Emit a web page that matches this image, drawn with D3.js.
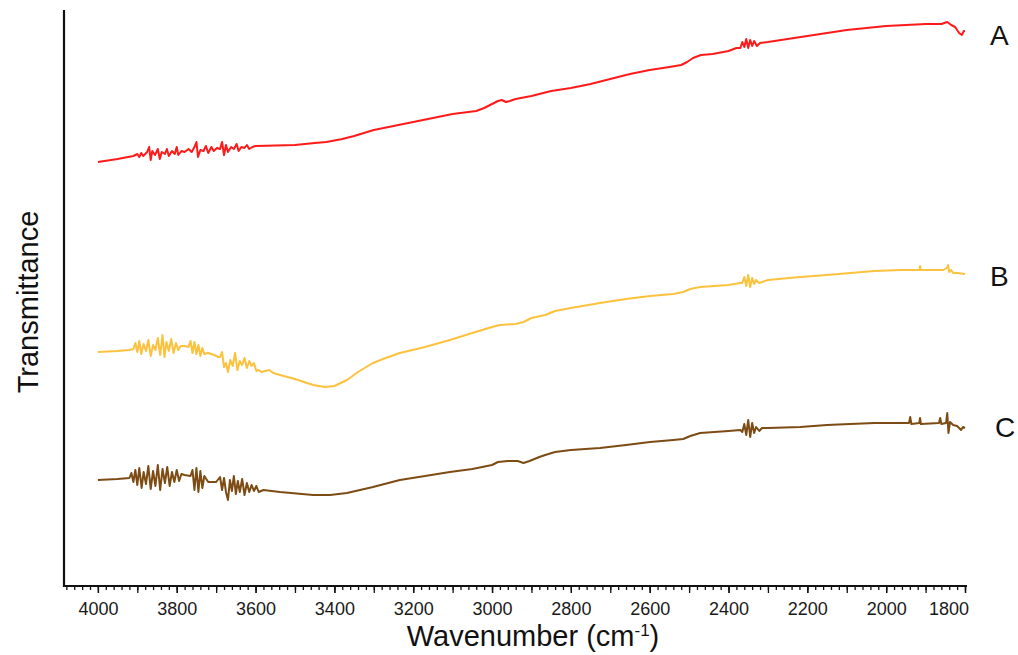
<!DOCTYPE html>
<html>
<head>
<meta charset="utf-8">
<script src="https://cdn.jsdelivr.net/npm/d3@7"></script>
<style>
  html, body { margin: 0; padding: 0; background: #fff; }
  svg { display: block; font-family: "Liberation Sans", Arial, sans-serif; }
</style>
</head>
<body>
<svg id="chart" width="1018" height="655"></svg>
<script>
// wavenumber (cm-1), transmittance (arbitrary units, curves offset)
const spectrumA = [
  [4000,42.4],[3950,42.7],[3910,43.0],
  [3900,43.2],[3895,42.9],[3890,43.3],[3885,43.0],[3875,43.4],[3870,43.9],[3866,42.6],[3862,43.5],
  [3855,43.1],[3848,43.7],[3843,42.7],[3838,43.4],[3830,43.2],[3825,43.7],[3820,43.0],[3812,43.5],
  [3805,43.2],[3800,43.9],[3796,43.1],[3788,43.5],[3780,43.4],[3770,43.7],[3762,43.4],[3755,43.9],
  [3750,44.4],[3746,42.9],[3740,43.6],[3732,43.5],[3726,44.0],[3720,43.3],[3712,43.9],[3706,43.5],
  [3698,43.8],[3690,43.7],[3685,44.4],[3680,43.1],[3675,44.1],[3670,43.4],[3662,43.9],[3655,43.7],
  [3648,44.2],[3643,43.5],[3636,43.9],[3628,43.8],[3622,44.1],[3616,43.7],[3608,43.9],[3600,44.0],
  [3500,44.1],[3450,44.3],[3420,44.4],[3380,44.7],[3350,45.0],[3300,45.6],[3250,46.0],[3200,46.4],
  [3150,46.8],[3100,47.2],[3060,47.4],[3040,47.5],[3020,47.8],[3000,48.2],[2985,48.5],[2975,48.6],
  [2965,48.4],[2955,48.5],[2940,48.7],[2900,49.0],[2850,49.5],[2800,49.8],[2750,50.2],[2700,50.7],
  [2650,51.2],[2600,51.6],[2550,51.9],[2520,52.1],[2505,52.4],[2490,52.8],[2470,53.1],[2440,53.2],
  [2400,53.5],[2380,53.8],
  [2370,53.8],[2365,54.4],[2360,53.9],[2355,54.7],[2350,53.8],[2345,54.6],[2340,54.0],[2335,54.5],
  [2328,54.0],[2320,54.3],
  [2300,54.4],[2250,54.7],[2200,55.0],[2150,55.3],[2100,55.6],[2050,55.8],[2000,56.0],[1950,56.1],
  [1900,56.2],[1860,56.2],[1845,56.4],[1835,56.1],[1825,55.9],[1815,55.3],[1808,55.1],[1803,55.5],
  [1800,55.5]
];

const spectrumB = [
  [4000,23.4],[3950,23.5],[3920,23.6],
  [3910,23.7],[3905,24.3],[3900,23.4],[3895,24.5],[3890,23.2],[3884,24.2],[3878,23.5],[3872,24.6],
  [3866,23.0],[3860,24.1],[3854,23.6],[3848,24.8],[3842,23.1],[3836,25.1],[3831,22.9],[3826,24.4],
  [3820,23.5],[3814,24.7],[3808,23.3],[3802,24.3],[3796,23.6],[3790,24.0],
  [3780,24.0],[3770,23.9],
  [3765,24.5],[3760,23.3],[3755,24.4],[3750,23.2],[3745,24.1],[3740,23.0],[3735,23.8],[3730,23.2],
  [3720,23.3],[3705,23.1],[3695,22.9],
  [3690,22.9],[3685,23.4],[3680,21.9],[3675,22.3],[3670,21.4],[3664,22.6],[3658,22.0],[3652,23.3],
  [3646,21.6],[3640,22.5],[3634,22.1],[3628,22.8],[3622,21.8],[3616,22.5],[3610,22.0],[3604,22.3],
  [3598,21.5],[3592,21.6],
  [3585,21.4],[3575,21.5],[3565,21.6],[3555,21.3],[3538,21.1],[3500,20.7],[3454,20.1],[3424,19.9],
  [3400,20.0],[3368,20.6],[3340,21.4],[3302,22.3],[3270,22.8],[3234,23.3],[3170,23.9],[3107,24.6],
  [3050,25.3],[3000,25.9],[2980,26.1],[2940,26.2],[2920,26.4],[2900,26.8],[2865,27.1],[2840,27.5],
  [2800,27.8],[2726,28.3],[2660,28.7],[2599,29.0],[2540,29.2],[2515,29.4],[2497,29.7],[2472,29.9],
  [2400,30.1],[2370,30.3],
  [2365,30.3],[2360,30.9],[2355,30.0],[2350,31.1],[2345,29.9],[2340,30.8],[2335,30.2],[2330,30.6],
  [2322,30.3],
  [2300,30.6],[2218,30.9],[2150,31.1],[2091,31.3],[2030,31.5],[1964,31.6],[1915,31.6],[1914,32.0],
  [1912,31.6],[1881,31.6],[1855,31.6],[1846,31.8],[1843,32.1],[1840,31.4],[1835,31.6],[1830,31.3],
  [1820,31.3],[1800,31.2]
];

const spectrumC = [
  [4000,10.6],[3950,10.7],[3920,10.8],
  [3915,11.3],[3910,10.4],[3905,11.6],[3900,10.1],[3895,11.8],[3889,9.8],[3884,11.4],[3878,10.2],
  [3872,12.0],[3866,9.7],[3860,11.5],[3854,10.0],[3848,12.1],[3842,9.6],[3836,11.7],[3830,10.3],
  [3824,11.9],[3818,10.0],[3812,11.4],[3806,10.4],[3800,11.6],[3794,10.5],[3788,11.2],
  [3780,11.1],[3765,11.0],
  [3760,11.6],[3755,9.6],[3750,11.8],[3745,9.4],[3740,11.5],[3735,9.8],[3730,11.0],
  [3720,10.4],[3700,10.4],
  [3690,10.9],[3685,9.6],[3680,10.8],[3675,9.4],[3670,8.6],[3665,10.6],[3660,9.5],[3655,11.0],
  [3650,9.2],[3645,10.5],[3640,9.4],[3634,10.7],[3628,9.1],[3622,10.3],[3616,9.4],[3610,10.1],
  [3604,9.5],[3598,10.0],[3592,9.4],
  [3580,9.6],[3538,9.4],[3454,9.1],[3411,9.1],[3368,9.3],[3302,9.9],[3234,10.6],[3170,11.0],
  [3107,11.4],[3050,11.7],[3000,12.1],[2985,12.4],[2960,12.5],[2935,12.5],[2920,12.3],[2905,12.5],
  [2880,12.9],[2865,13.1],[2840,13.4],[2800,13.6],[2726,13.8],[2660,14.1],[2599,14.4],[2540,14.6],
  [2515,14.7],[2497,15.0],[2472,15.3],[2400,15.5],[2370,15.6],
  [2365,15.4],[2360,16.2],[2355,15.1],[2350,16.6],[2345,14.9],[2340,16.3],[2335,15.3],[2330,15.9],
  [2322,15.5],[2315,15.8],
  [2300,15.8],[2218,15.9],[2150,16.1],[2091,16.2],[2030,16.3],[1964,16.3],
  [1942,16.3],[1939,16.9],[1936,16.2],[1916,16.3],[1914,16.8],[1912,16.2],[1866,16.3],[1863,16.8],
  [1860,16.2],[1848,16.3],[1845,17.3],[1842,15.3],[1838,16.4],[1830,16.1],[1820,16.0],[1810,15.6],
  [1805,15.9],[1800,15.8]
];

const seriesNames = ["A", "B", "C"];
const seriesColors = ["#ff1a1a", "#fcc23e", "#7d4b14"];
const tickLabels = [4000, 3800, 3600, 3400, 3200, 3000, 2800, 2600, 2400, 2200, 2000, 1800];

const W = 1018, H = 655;
const m = { top: 10, right: 53, bottom: 69, left: 64 };

const svg = d3.select("#chart");

const x = d3.scaleLinear().domain([4086, 1800]).range([m.left, W - m.right]);
const y = d3.scaleLinear().domain([0, 57.6]).range([H - m.bottom, m.top]);

// axes
const xAxisY = H - m.bottom;
const minor = svg.append("g").attr("transform", `translate(0,${xAxisY})`)
  .call(d3.axisBottom(x).tickValues(d3.range(1800, 4081, 20)).tickSize(4).tickFormat(""));
const mid = svg.append("g").attr("transform", `translate(0,${xAxisY})`)
  .call(d3.axisBottom(x).tickValues(d3.range(1800, 4081, 100)).tickSize(7).tickFormat(""));
const major = svg.append("g").attr("transform", `translate(0,${xAxisY})`)
  .call(d3.axisBottom(x).tickValues(tickLabels).tickSize(7).tickPadding(9).tickFormat(d3.format("d")));

[minor, mid, major].forEach(g => {
  g.select(".domain").remove();
  g.selectAll(".tick line").attr("stroke", "#111").attr("stroke-width", 1.3);
});
major.selectAll(".tick text")
  .style("font-size", "18px").style("fill", "#1a1a1a")
  .attr("text-anchor", d => d === 1800 ? "end" : "middle")
  .attr("dx", d => d === 1800 ? "0.2em" : 0);

svg.append("line")
  .attr("x1", m.left).attr("x2", m.left + 903)
  .attr("y1", xAxisY).attr("y2", xAxisY)
  .attr("stroke", "#111").attr("stroke-width", 2);
svg.append("line")
  .attr("x1", m.left).attr("x2", m.left)
  .attr("y1", m.top).attr("y2", xAxisY + 1)
  .attr("stroke", "#111").attr("stroke-width", 2.2);

// spectra
const line = d3.line().x(d => x(d[0])).y(d => y(d[1]));
[spectrumA, spectrumB, spectrumC].forEach((s, i) => {
  svg.append("path")
    .datum(s)
    .attr("fill", "none")
    .attr("stroke", seriesColors[i])
    .attr("stroke-width", 2)
    .attr("stroke-linejoin", "round")
    .attr("d", line);
});

// series letters
const letterPos = [[990, 45], [990, 286], [995, 437]];
seriesNames.forEach((n, i) => {
  svg.append("text")
    .attr("x", letterPos[i][0]).attr("y", letterPos[i][1])
    .style("font-size", "28px").style("fill", "#111")
    .text(n);
});

// axis titles
const xt = svg.append("text")
  .attr("x", 533).attr("y", 646)
  .attr("text-anchor", "middle")
  .style("font-size", "29px").style("fill", "#111");
xt.append("tspan").text("Wavenumber (cm");
xt.append("tspan").attr("dy", -10).style("font-size", "17px").text("-1");
xt.append("tspan").attr("dy", 10).text(")");

svg.append("text")
  .attr("transform", "translate(38,302) rotate(-90)")
  .attr("text-anchor", "middle")
  .style("font-size", "29px").style("fill", "#111")
  .text("Transmittance");
</script>
</body>
</html>
